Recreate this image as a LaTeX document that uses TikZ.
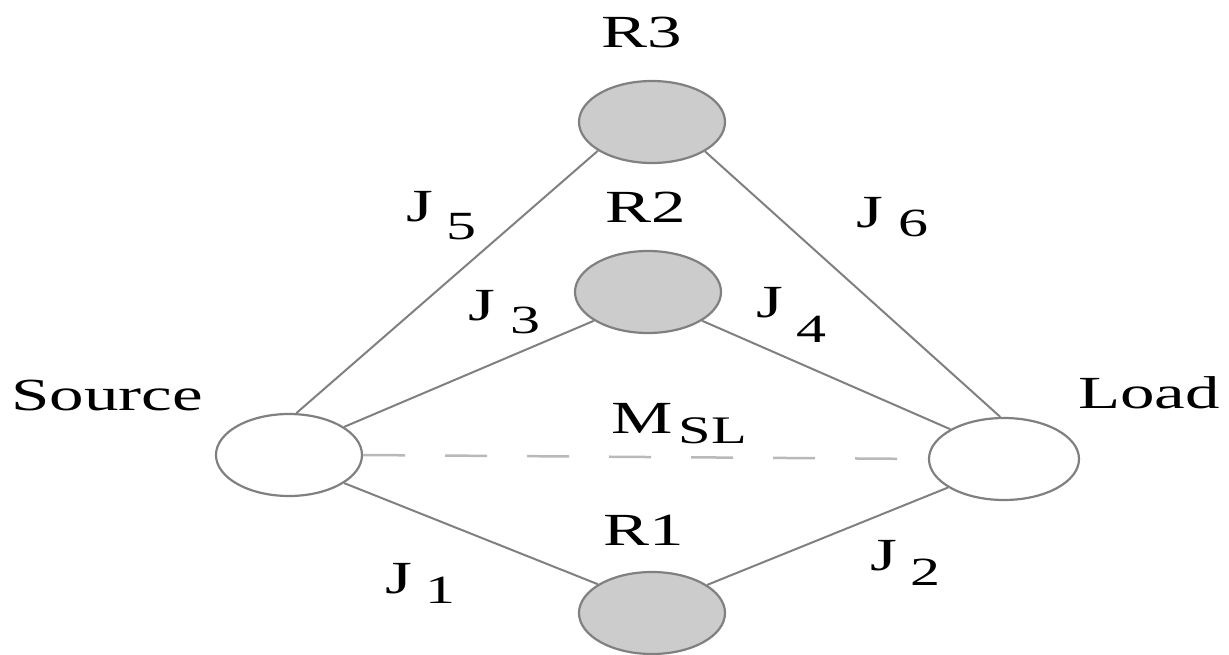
\documentclass[tikz,border=0pt]{standalone}
\usepackage{fontspec}
\setmainfont{Liberation Serif}
\usetikzlibrary{shapes.geometric}
\definecolor{edgeg}{RGB}{128,128,128}
\definecolor{fillg}{RGB}{204,204,204}
\definecolor{dashg}{RGB}{185,185,185}
\newcommand{\wtxt}[1]{\scalebox{1.5}[1]{#1}}
\newcommand{\subtxt}[4]{\scalebox{1.5}[1]{#1\hspace{#3}\raisebox{-#4}{\fontsize{40}{48}\selectfont #2}}}
\begin{document}
\begin{tikzpicture}[x=1pt,y=-1pt,
  term/.style={ellipse, draw=edgeg, line width=2.2pt, fill=white, minimum width=146pt, minimum height=82pt, inner sep=0pt},
  res/.style={term, fill=fillg},
  wire/.style={draw=edgeg, line width=2pt},
  dwire/.style={draw=dashg, line width=2.5pt, dash pattern=on 42pt off 40pt},
  lab/.style={inner sep=0pt, anchor=base west, font=\fontsize{46}{55}\selectfont, text=black}]
\useasboundingbox (0,0) rectangle (1229,655);
% nodes
\node[term] (src) at (289,455) {};
\node[term, minimum width=150pt] (load) at (1004,459) {};
\node[res] (r3) at (652,122) {};
\node[res] (r2) at (648,292) {};
\node[res] (r1) at (652,613) {};
% connectors
\draw[wire] (src.80) -- (r3.208);
\draw[wire] (src.27) -- (r2.208);
\draw[wire] (src.-27) -- (r1.152);
\draw[wire] (r3.331) -- (load.95);
\draw[wire] (r2.332) -- (load.151);
\draw[wire] (r1.27) -- (load.207);
\draw[dwire] (src.east) -- (load.west);
% labels
\node[lab] (tsrc) at (11,410) {\wtxt{Source}};
\node[lab] (tload) at (1078,408) {\wtxt{Load}};
\node[lab] (tr3) at (601,48) {\wtxt{R3}};
\node[lab] (tr2) at (605,223) {\wtxt{R2}};
\node[lab] (tr1) at (603,545) {\wtxt{R1}};
\node[lab] (tj5) at (406,222) {\subtxt{J}{5}{9pt}{18pt}};
\node[lab] (tj6) at (856,228) {\subtxt{J}{6}{10pt}{9pt}};
\node[lab] (tj3) at (468,320) {\subtxt{J}{3}{10pt}{13pt}};
\node[lab] (tj4) at (756,317) {\subtxt{J}{4}{9pt}{25pt}};
\node[lab] (tj1) at (385,593) {\subtxt{J}{1}{9pt}{10pt}};
\node[lab] (tj2) at (870,570) {\subtxt{J}{2}{9pt}{15pt}};
\node[lab] (tm) at (611,433) {\scalebox{1.5}[1]{M\hspace{4pt}\raisebox{-10pt}{\fontsize{39}{47}\selectfont SL}}};
\end{tikzpicture}
\end{document}
